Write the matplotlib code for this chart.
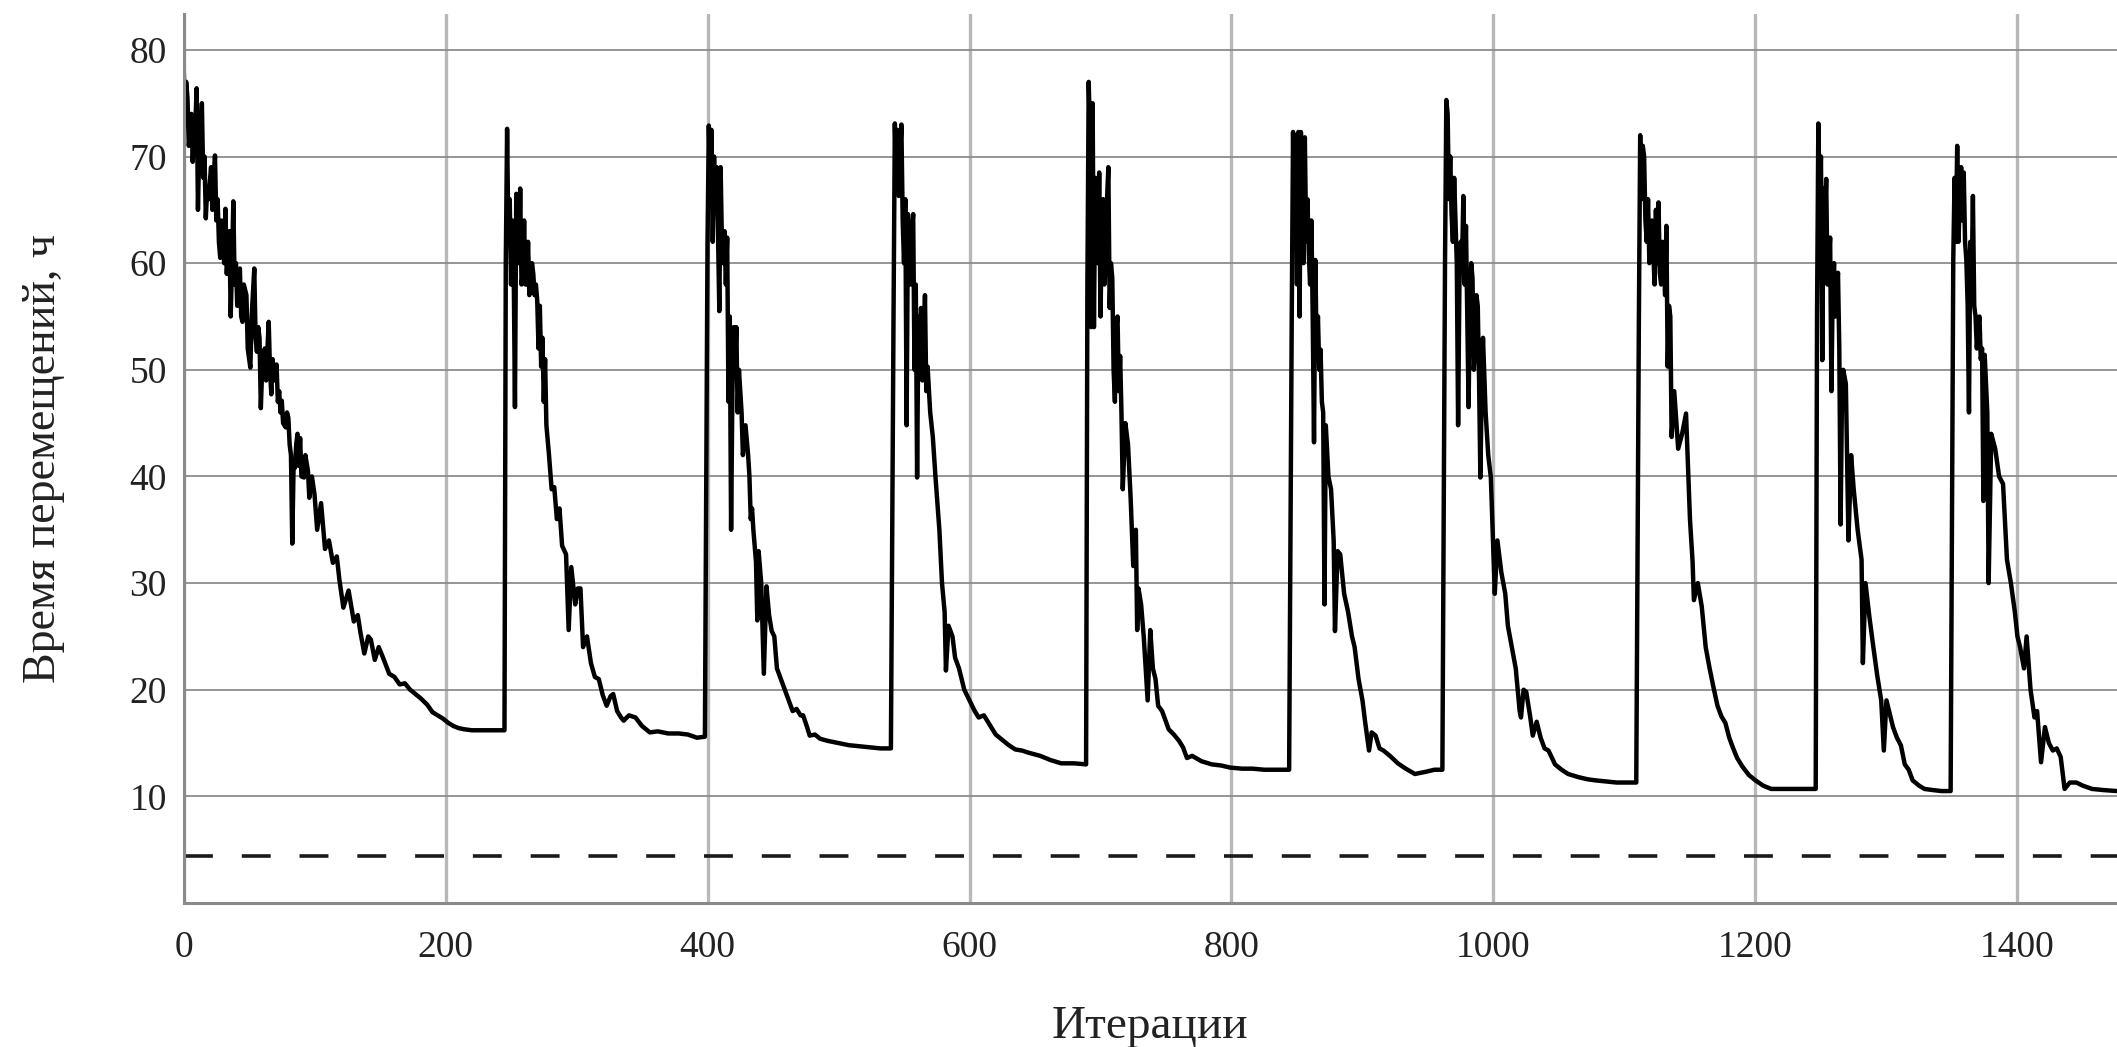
import matplotlib
matplotlib.use("Agg")
import matplotlib.pyplot as plt
from matplotlib.ticker import FixedLocator

plt.rcParams['font.family'] = ['Liberation Serif', 'DejaVu Serif']

# restarts of the search (iteration, hours)
run1_x = [0, 1, 2, 3, 4, 5, 6, 7, 8, 9, 10, 11, 12, 13, 14, 15, 16, 17, 18, 19, 21, 22, 24, 25, 26, 27,
          28, 29, 30, 31, 32, 33, 34, 35, 36, 37, 38, 39, 40, 41, 43, 44, 45, 46, 48, 49, 51, 52, 54, 55,
          56, 57, 58, 59, 60, 62, 63, 65, 66, 67, 68, 69, 71, 72, 73, 74, 75, 76, 78, 79, 80, 81, 82, 83,
          84, 85, 86, 87, 88, 89, 90, 92, 93, 95, 96, 97, 98, 100,
          102, 105, 108, 111, 114, 117, 119, 122, 126, 130, 133, 135, 138, 141, 143, 146, 149, 152, 157,
          161, 165, 169, 173, 177, 181, 186, 190, 194, 198, 202, 206, 210, 214, 220, 228, 236, 245]
run1_y = [79, 74, 77, 75.5, 71, 72, 74, 69.5, 72, 73, 76.4, 65, 71, 72, 75, 68, 70, 64.2, 67, 66, 69, 65,
          70.1, 64, 66, 62, 60.5, 64, 63, 60, 65.1, 59, 61, 63, 55, 60, 65.8, 58, 60, 56, 59.5, 55, 54.5,
          58, 57, 52, 50.2, 55, 59.5, 53, 51.7, 54, 53, 46.4, 50, 52, 49, 54.5, 50, 47.7, 51, 49, 50.5, 47,
          48, 46, 47.1, 45, 44.6, 46, 45.5, 43, 42, 33.7, 41, 40.8, 43, 44, 41, 43.6, 40, 39.9, 42, 40.5,
          38, 39.3, 40, 38.3, 35, 37.5, 33.2, 34, 31.9, 32.5, 30.3,
          27.7, 29.3, 26.4, 27, 25.4, 23.4, 25, 24.7, 22.8, 24, 23.1, 21.5, 21.2, 20.5, 20.6, 20.0, 19.6,
          19.2, 18.6, 17.9, 17.6, 17.3, 16.9, 16.6, 16.4, 16.3, 16.2, 16.2, 16.2, 16.2]

run2_x = [246, 247, 248, 249, 250, 251, 252, 253, 254, 255, 256, 257, 258, 259, 260, 261, 262, 263, 264,
          265, 266, 267, 268, 269, 270, 271, 272, 273, 274, 275, 276, 277, 279, 281, 283, 285, 287, 289,
          292, 294, 296, 299, 301, 303, 305, 308, 311, 314, 317, 320, 323, 326, 328, 331, 334, 336, 340,
          345, 350, 356, 362, 370, 378, 385, 392, 398]
run2_y = [60, 72.6, 62, 66, 58, 64, 60, 46.5, 66.5, 61, 60, 67, 58, 59, 64, 58, 58, 62, 57, 57.5, 60,
          59, 57, 58, 56.5, 52, 56, 50.3, 53, 47, 51, 44.8, 42, 38.8, 39, 36, 37, 33.5, 32.7, 25.6, 31.5,
          28, 29.5, 29.5, 24, 25, 22.5, 21.2, 21, 19.5, 18.5, 19.4, 19.6, 18, 17.4, 17.1, 17.6, 17.4, 16.6,
          16, 16.1, 15.9, 15.9, 15.8, 15.5, 15.6]

run3_x = [400, 401, 402, 403, 404, 405, 406, 407, 408, 409, 410, 411, 412, 413, 414, 415, 416, 417, 418,
          419, 420, 421, 422, 423, 424, 426, 427, 429, 431, 432, 433, 434, 435, 437, 438, 439, 441, 443,
          445, 447, 449, 451, 453, 456, 459, 462, 465, 468, 471, 473, 476, 478, 482, 486, 492, 500, 508,
          516, 524, 532, 540]
run3_y = [62, 72.9, 67, 72.5, 62, 70, 65, 69, 63, 55.5, 69, 62, 60, 63, 58, 62.4, 47, 55, 35, 48, 54,
          50, 54, 46, 50, 46, 42, 44.8, 42, 40, 36, 37, 35, 32, 26.5, 33, 30, 21.5, 29.7, 27, 25.5, 25,
          22, 21, 20, 19, 18, 18.2, 17.6, 17.6, 16.5, 15.7, 15.8, 15.4, 15.2, 15, 14.8, 14.7, 14.6, 14.5,
          14.5]

run4_x = [542, 543, 544, 545, 546, 547, 548, 549, 550, 551, 552, 553, 554, 555, 556, 557, 558, 559, 560,
          561, 562, 563, 564, 565, 566, 567, 568, 570, 572, 574, 577, 579, 581, 582, 584, 587, 589, 592,
          596, 600, 604, 607, 611, 615, 620, 625, 630, 635, 640, 645, 654, 662, 670, 680, 689]
run4_y = [55, 73.1, 68, 72.5, 66.3, 70, 73, 64, 60, 66, 44.8, 64.6, 60, 58, 63, 64.6, 50, 58, 39.9, 55,
          50, 55.8, 49, 52, 57, 48, 50.3, 46, 43.7, 40, 35, 30, 27.3, 21.8, 26, 25, 23, 22, 20, 19, 18,
          17.4, 17.6, 16.8, 15.8, 15.3, 14.8, 14.4, 14.3, 14.1, 13.8, 13.4, 13.1, 13.1, 13.0]

run5_x = [690, 691, 692, 693, 694, 695, 696, 697, 698, 699, 700, 701, 702, 703, 704, 705, 706, 707, 708,
          709, 710, 711, 712, 713, 714, 715, 716, 717, 719, 721, 723, 725, 727, 728, 729, 731, 733, 736,
          738, 740, 742, 744, 747, 750, 752, 756, 760, 763, 766, 770, 777, 785, 792, 799, 808, 816, 825,
          835, 844]
run5_y = [58, 77, 72, 54, 75, 54, 68, 66, 60, 68.5, 55, 63, 66, 58, 60, 66, 69, 55.8, 60, 58.6, 50, 47,
          54, 55, 48, 51.3, 46, 38.8, 45, 43, 38, 31.6, 35, 25.6, 29.5, 28, 25, 19, 25.6, 22, 21, 18.5, 18,
          17, 16.3, 15.8, 15.2, 14.6, 13.6, 13.8, 13.3, 13.0, 12.9, 12.7, 12.6, 12.6, 12.5, 12.5, 12.5]

run6_x = [846, 847, 848, 849, 850, 851, 852, 853, 854, 855, 856, 857, 858, 859, 860, 861, 862, 863, 864,
          865, 866, 867, 868, 869, 870, 871, 872, 874, 876, 878, 879, 881, 883, 886, 889, 892, 894, 897,
          900, 902, 905, 907, 910, 913, 916, 921, 927, 933, 940, 948, 955, 961]
run6_y = [55, 72.3, 62, 72, 58, 72.3, 55, 72.3, 63, 60, 71.8, 62, 66, 61, 58, 64, 55, 43.2, 60.3, 52,
          55, 50, 51.9, 47, 46, 28, 44.8, 40, 38.8, 34, 25.5, 33, 32.7, 29, 27.3, 25, 24, 21, 19, 17,
          14.3, 16, 15.7, 14.5, 14.3, 13.8, 13.1, 12.6, 12.1, 12.3, 12.5, 12.5]

run7_x = [963, 964, 965, 966, 967, 968, 969, 970, 971, 972, 973, 974, 975, 976, 977, 978, 979, 980, 981,
          982, 983, 984, 985, 986, 987, 988, 989, 990, 991, 992, 994, 996, 998, 1001, 1003, 1006, 1009,
          1011, 1014, 1017, 1020, 1021, 1023, 1025, 1028, 1030, 1033, 1036, 1039, 1042, 1047, 1052, 1057,
          1065, 1072, 1078, 1086, 1094, 1102, 1109]
run7_y = [60, 75.3, 74, 66, 70, 64.6, 62, 68, 64, 60, 44.8, 58, 62, 60, 66.3, 58, 63.5, 55, 46.5, 57,
          60, 58.6, 50, 52, 57, 56, 49, 39.9, 48, 53, 46, 42, 39.9, 29, 34, 31, 29, 26, 24, 22, 18, 17.4,
          20, 19.8, 17.5, 15.7, 17, 15.5, 14.5, 14.3, 13, 12.5, 12.1, 11.8, 11.6, 11.5, 11.4, 11.3, 11.3,
          11.3]

run8_x = [1111, 1112, 1113, 1114, 1115, 1116, 1117, 1118, 1119, 1120, 1121, 1122, 1123, 1124, 1125, 1126,
          1127, 1128, 1129, 1130, 1131, 1132, 1133, 1134, 1135, 1136, 1138, 1141, 1144, 1147, 1150, 1152,
          1153, 1156, 1159, 1162, 1165, 1168, 1171, 1174, 1177, 1180, 1183, 1186, 1190, 1195, 1200, 1206,
          1212, 1220, 1230, 1238, 1246]
run8_y = [54.7, 72, 66, 71, 70, 64, 62, 66, 60, 60.8, 64, 61, 58, 65, 60, 65.7, 59, 58, 62, 61, 57,
          63.5, 50.3, 56, 55, 43.7, 48, 42.6, 44, 45.9, 36, 32, 28.4, 30, 27.8, 24, 22, 20.2, 18.5, 17.5,
          16.9, 15.5, 14.5, 13.6, 12.8, 12, 11.5, 11, 10.7, 10.7, 10.7, 10.7, 10.7]

run9_x = [1247, 1248, 1249, 1250, 1251, 1252, 1253, 1254, 1255, 1256, 1257, 1258, 1259, 1260, 1261, 1262,
          1263, 1264, 1265, 1266, 1267, 1269, 1271, 1273, 1275, 1278, 1281, 1282, 1284, 1287, 1290, 1293,
          1296, 1298, 1300, 1302, 1305, 1308, 1311, 1314, 1317, 1320, 1325, 1329, 1335, 1342, 1349]
run9_y = [55, 73.1, 66, 70, 50.9, 67, 64, 67.9, 58, 60, 62.4, 48, 58, 60, 55, 57, 59.1, 52, 35.5, 47,
          50, 48.7, 34, 42, 38.8, 35, 32.2, 22.5, 30, 26.8, 24, 21.3, 19, 14.3, 19, 18, 16.5, 15.5, 14.8,
          13, 12.5, 11.5, 11, 10.7, 10.6, 10.5, 10.5]

run10_x = [1351, 1352, 1353, 1354, 1355, 1356, 1357, 1358, 1359, 1360, 1361, 1362, 1363, 1364, 1365,
           1366, 1367, 1368, 1369, 1370, 1371, 1372, 1373, 1374, 1375, 1377, 1378, 1380, 1383, 1386, 1389,
           1392, 1395, 1398, 1400, 1402, 1405, 1407, 1410, 1413, 1415, 1418, 1421, 1424, 1427, 1430, 1433,
           1436, 1440, 1445, 1450, 1457, 1465, 1476]
run10_y = [60.3, 68, 62, 71, 62, 66, 69, 64, 68.5, 62, 60.3, 56, 46, 62, 58, 66.3, 56, 55, 52, 54, 55,
           51, 52, 37.7, 51.4, 46, 30, 44, 42.6, 40, 39.3, 32.2, 30, 27.3, 25, 24, 22, 25, 20, 17.4, 18,
           13.2, 16.5, 15, 14.3, 14.5, 13.7, 10.7, 11.3, 11.3, 11, 10.7, 10.6, 10.5]

lower_bound = 4.4  # dashed reference level, hours

runs_x = [run1_x, run2_x, run3_x, run4_x, run5_x, run6_x, run7_x, run8_x, run9_x, run10_x]
runs_y = [run1_y, run2_y, run3_y, run4_y, run5_y, run6_y, run7_y, run8_y, run9_y, run10_y]
iters = [x for r in runs_x for x in r]
hours = [y for r in runs_y for y in r]

fig = plt.figure(figsize=(21.17, 10.47), dpi=100)
ax = fig.add_axes([0.0867, 0.1375, 0.9133, 0.8495])

ax.plot(iters, hours, color='black', lw=3.2)
ax.axhline(lower_bound, color='#1a1a1a', lw=2.6, ls=(0, (8, 8)))

ax.set_xlim(0, 1476)
ax.set_ylim(0, 83.4)
ax.xaxis.set_major_locator(FixedLocator(range(0, 1401, 200)))
ax.yaxis.set_major_locator(FixedLocator(range(10, 81, 10)))
ax.tick_params(length=0, labelsize=27, colors='#222222')
ax.tick_params(axis='x', pad=20)
ax.tick_params(axis='y', pad=12)

ax.xaxis.grid(True, color='#b8b8b8', lw=2.4)
ax.yaxis.grid(True, color='#8c8c8c', lw=1.3)
ax.set_axisbelow(True)

for s in ['top', 'right']:
    ax.spines[s].set_visible(False)
for s in ['left', 'bottom']:
    ax.spines[s].set_color('#8a8a8a')
    ax.spines[s].set_linewidth(2.2)

ax.set_xlabel("Итерации", fontsize=34, labelpad=29, color='#222222')
ax.set_ylabel("Время перемещений, ч", fontsize=33, labelpad=46, color='#222222')

fig.savefig("out.png", dpi=100)
